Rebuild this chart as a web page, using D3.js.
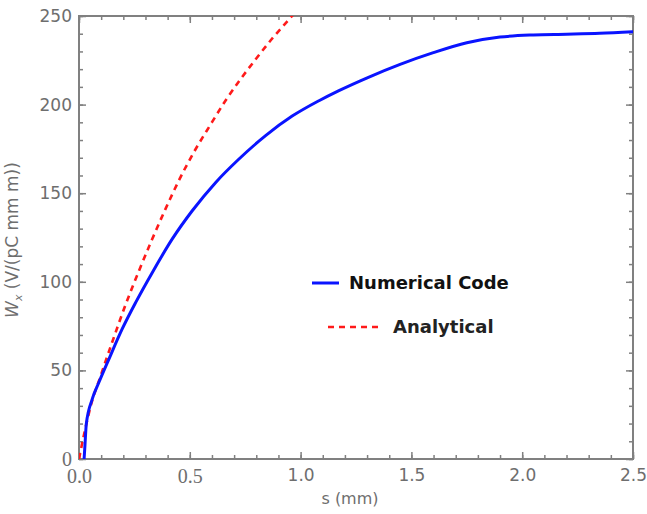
<!DOCTYPE html>
<html>
<head>
<meta charset="utf-8">
<script src="https://cdn.jsdelivr.net/npm/d3@7"></script>
<style>
  html, body { margin: 0; padding: 0; background: #fff; }
  svg { display: block; }
  .tick text { font-family: "DejaVu Sans", Verdana, sans-serif; font-size: 17px; fill: #6e6e6e; }
</style>
</head>
<body>
<svg id="chart" width="647" height="514"></svg>
<script>
// Wake potential W_x versus distance s behind the bunch
const numS = [0.023, 0.027, 0.033, 0.060, 0.090, 0.135, 0.195, 0.256, 0.331, 0.421, 0.511, 0.617, 0.722, 0.842, 0.962, 1.083, 1.173, 1.298, 1.449, 1.599, 1.750, 1.900, 2.050, 2.200, 2.350, 2.500];
const numW = [0, 8, 19.8, 33.9, 43.3, 56.4, 73.4, 88.4, 105.3, 124.2, 140.1, 156.1, 169.3, 182.5, 193.5, 202.2, 207.9, 215.0, 222.7, 229.3, 234.9, 238.1, 239.3, 239.7, 240.2, 241.1];

const anaS = [0, 0.023, 0.053, 0.098, 0.150, 0.210, 0.270, 0.330, 0.390, 0.450, 0.520, 0.590, 0.660, 0.730, 0.800, 0.870, 0.940, 0.990];
const anaW = [0, 14, 30, 47, 66, 87, 106, 124, 141, 157, 173.5, 188, 202, 214.5, 226, 237, 247, 254];

const xMajor = [0, 0.5, 1.0, 1.5, 2.0, 2.5];
const xMinor = d3.range(0, 26).map(i => i / 10);
const yMajor = [0, 50, 100, 150, 200, 250];
const yMinor = d3.range(0, 26).map(i => i * 10);

const legendLabels = ["Numerical Code", "Analytical"];

const svg = d3.select("#chart");
const plot = { left: 79, top: 16, right: 633, bottom: 459 };

const x = d3.scaleLinear().domain([0, 2.5]).range([plot.left, plot.right]);
const y = d3.scaleLinear().domain([0, 250]).range([plot.bottom, plot.top]);

const axisColor = "#808080";
const labelFont = "'DejaVu Sans', Verdana, sans-serif";
const serifTicks = new Set(["0", "0.0", "0.5"]);

function styleAxis(g) {
  g.select(".domain").remove();
  g.selectAll(".tick line").attr("stroke", axisColor).attr("stroke-width", 1.5);
}

// minor ticks (all four sides)
svg.append("g").attr("transform", `translate(0,${plot.bottom})`)
  .call(d3.axisBottom(x).tickValues(xMinor).tickSize(-4).tickFormat(""))
  .call(styleAxis);
svg.append("g").attr("transform", `translate(0,${plot.top})`)
  .call(d3.axisTop(x).tickValues(xMinor).tickSize(-4).tickFormat(""))
  .call(styleAxis);
svg.append("g").attr("transform", `translate(${plot.left},0)`)
  .call(d3.axisLeft(y).tickValues(yMinor).tickSize(-4).tickFormat(""))
  .call(styleAxis);
svg.append("g").attr("transform", `translate(${plot.right},0)`)
  .call(d3.axisRight(y).tickValues(yMinor).tickSize(-4).tickFormat(""))
  .call(styleAxis);

// major ticks with labels
const gx = svg.append("g").attr("transform", `translate(0,${plot.bottom})`)
  .call(d3.axisBottom(x).tickValues(xMajor).tickSize(-7).tickPadding(10).tickFormat(d3.format(".1f")))
  .call(styleAxis);
const gy = svg.append("g").attr("transform", `translate(${plot.left},0)`)
  .call(d3.axisLeft(y).tickValues(yMajor).tickSize(-7).tickPadding(7).tickFormat(d3.format("d")))
  .call(styleAxis);
svg.append("g").attr("transform", `translate(0,${plot.top})`)
  .call(d3.axisTop(x).tickValues(xMajor).tickSize(-7).tickFormat(""))
  .call(styleAxis);
svg.append("g").attr("transform", `translate(${plot.right},0)`)
  .call(d3.axisRight(y).tickValues(yMajor).tickSize(-7).tickFormat(""))
  .call(styleAxis);

svg.selectAll(".tick text")
  .filter(function () { return serifTicks.has(d3.select(this).text()); })
  .style("font-family", "'Liberation Serif', 'Times New Roman', serif")
  .style("font-size", "20px");

// frame
svg.append("rect")
  .attr("x", plot.left).attr("y", plot.top)
  .attr("width", plot.right - plot.left).attr("height", plot.bottom - plot.top)
  .attr("fill", "none").attr("stroke", axisColor).attr("stroke-width", 2);

// curves
svg.append("clipPath").attr("id", "clip")
  .append("rect").attr("x", plot.left).attr("y", plot.top)
  .attr("width", plot.right - plot.left).attr("height", plot.bottom - plot.top);

const line = d3.line().x(d => x(d[0])).y(d => y(d[1])).curve(d3.curveMonotoneX);

svg.append("path")
  .datum(anaS.map((s, i) => [s, anaW[i]]))
  .attr("clip-path", "url(#clip)")
  .attr("d", line)
  .attr("fill", "none").attr("stroke", "#ff1a1a").attr("stroke-width", 2.6)
  .attr("stroke-dasharray", "6,5");

svg.append("path")
  .datum(numS.map((s, i) => [s, numW[i]]))
  .attr("clip-path", "url(#clip)")
  .attr("d", line)
  .attr("fill", "none").attr("stroke", "#0a14ff").attr("stroke-width", 3);

// axis titles
svg.append("text")
  .attr("x", 350).attr("y", 504)
  .attr("text-anchor", "middle")
  .style("font-family", labelFont)
  .style("font-size", "16px").style("fill", "#6e6e6e")
  .text("s (mm)");

const yl = svg.append("text")
  .attr("transform", "translate(18,240) rotate(-90)")
  .attr("text-anchor", "middle")
  .style("font-family", labelFont)
  .style("font-size", "17px").style("fill", "#6e6e6e");
yl.append("tspan").style("font-style", "italic").text("W");
yl.append("tspan").style("font-style", "italic").style("font-size", "11px").attr("dy", 4).text("x");
yl.append("tspan").attr("dy", -4).text(" (V/(pC mm m))");

// legend
const lg = svg.append("g");
lg.append("line").attr("x1", 312).attr("x2", 339).attr("y1", 283).attr("y2", 283)
  .attr("stroke", "#0a14ff").attr("stroke-width", 3);
lg.append("text").attr("x", 349).attr("y", 289)
  .style("font-family", labelFont)
  .style("font-size", "18px").style("font-weight", "bold").style("fill", "#111")
  .text(legendLabels[0]);
lg.append("line").attr("x1", 328).attr("x2", 382).attr("y1", 327).attr("y2", 327)
  .attr("stroke", "#ff1a1a").attr("stroke-width", 2.6).attr("stroke-dasharray", "6,5");
lg.append("text").attr("x", 393).attr("y", 333)
  .style("font-family", labelFont)
  .style("font-size", "18px").style("font-weight", "bold").style("fill", "#222")
  .text(legendLabels[1]);
</script>
</body>
</html>
